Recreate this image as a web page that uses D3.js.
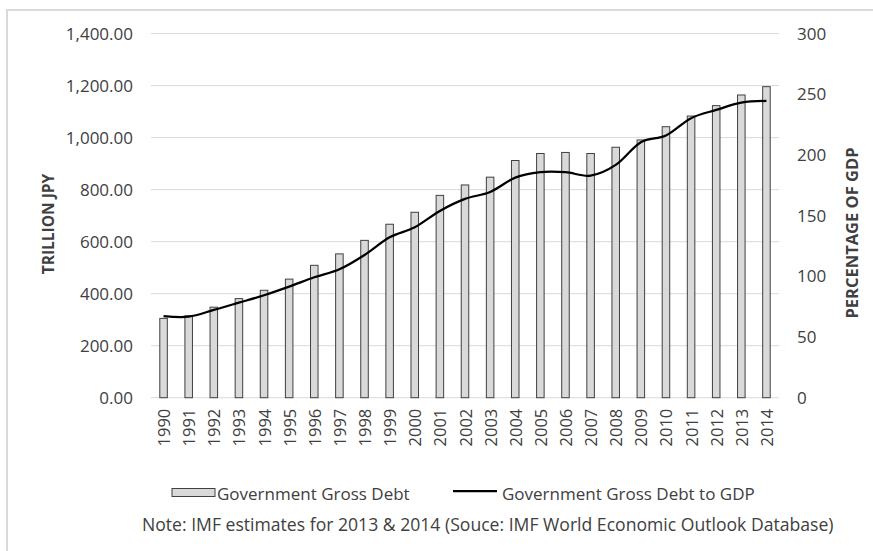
<!DOCTYPE html>
<html>
<head>
<meta charset="utf-8">
<script src="https://cdn.jsdelivr.net/npm/d3@7"></script>
<style>
  html, body { margin: 0; padding: 0; background: #fff; }
  svg text { font-family: "Open Sans", "Liberation Sans", sans-serif; fill: #404040; }
</style>
</head>
<body>
<svg id="chart" width="873" height="551"></svg>
<script>
// ---- data ----
const years = ["1990","1991","1992","1993","1994","1995","1996","1997","1998","1999",
               "2000","2001","2002","2003","2004","2005","2006","2007","2008","2009",
               "2010","2011","2012","2013","2014"];
const grossDebt = [305, 315, 348, 381, 413, 456, 509, 553, 605, 667,
                   713, 778, 818, 848, 912, 939, 943, 939, 963, 991,
                   1042, 1083, 1123, 1164, 1196];
const debtToGdp = [67.3, 66.8, 72.3, 78.3, 84.4, 91.5, 99.2, 105.8, 117.6, 132.2,
                   140.4, 153.9, 163.8, 169.5, 181.3, 185.8, 185.8, 183.0, 191.8, 210.5,
                   216.0, 230.3, 237.1, 243.1, 244.5];
const leftTicks = [0, 200, 400, 600, 800, 1000, 1200, 1400];
const rightTicks = [0, 50, 100, 150, 200, 250, 300];
const barLabel = "Government Gross Debt";
const lineLabel = "Government Gross Debt to GDP";
const leftTitle = "TRILLION JPY";
const rightTitle = "PERCENTAGE OF GDP";
const note = "Note: IMF estimates for 2013 & 2014 (Souce: IMF World Economic Outlook Database)";

// ---- layout ----
const svg = d3.select("#chart");
const plot = { left: 151, right: 779, top: 33.6, bottom: 397.7 };

// chart border (extends beyond the canvas on right and bottom)
svg.append("rect")
  .attr("x", 7).attr("y", 10).attr("width", 900).attr("height", 600)
  .attr("fill", "none").attr("stroke", "#d9d9d9").attr("stroke-width", 2);

const x = d3.scaleBand().domain(years).range([plot.left, plot.right])
  .paddingInner(0.7).paddingOuter(0.35);
const yL = d3.scaleLinear().domain([0, 1400]).range([plot.bottom, plot.top]);
const yR = d3.scaleLinear().domain([0, 300]).range([plot.bottom, plot.top]);

// gridlines
svg.append("g").selectAll("line").data(leftTicks).join("line")
  .attr("x1", plot.left).attr("x2", plot.right)
  .attr("y1", d => yL(d)).attr("y2", d => yL(d))
  .attr("stroke", "#d9d9d9").attr("stroke-width", 1);

// left axis
const fmt = d3.format(",.2f");
const leftAxis = d3.axisLeft(yL).tickValues(leftTicks).tickFormat(fmt).tickSize(0).tickPadding(0);
const gL = svg.append("g").attr("transform", `translate(133,0)`).call(leftAxis);
gL.select(".domain").remove();
gL.selectAll("text").attr("font-size", 17).attr("fill", "#404040")
  .attr("font-family", "'Open Sans', sans-serif").attr("x", 0);

// right axis
const rightAxis = d3.axisRight(yR).tickValues(rightTicks).tickSize(0).tickPadding(0);
const gR = svg.append("g").attr("transform", `translate(797,0)`).call(rightAxis);
gR.select(".domain").remove();
gR.selectAll("text").attr("font-size", 17).attr("fill", "#404040")
  .attr("font-family", "'Open Sans', sans-serif").attr("x", 0);

// bars
svg.append("g").selectAll("rect").data(years).join("rect")
  .attr("x", d => x(d)).attr("width", x.bandwidth())
  .attr("y", (d, i) => yL(grossDebt[i]))
  .attr("height", (d, i) => yL(0) - yL(grossDebt[i]))
  .attr("fill", "#d9d9d9").attr("stroke", "#404040").attr("stroke-width", 1);

// line
const line = d3.line()
  .x((d, i) => x(years[i]) + x.bandwidth() / 2)
  .y(d => yR(d))
  .curve(d3.curveCatmullRom.alpha(0));
svg.append("path").datum(debtToGdp)
  .attr("d", line).attr("fill", "none").attr("stroke", "#000")
  .attr("stroke-width", 2.25).attr("stroke-linejoin", "round");

// x axis labels
const xAxis = d3.axisBottom(x).tickSize(0).tickPadding(0);
const gX = svg.append("g").attr("transform", `translate(0,${plot.bottom})`).call(xAxis);
gX.select(".domain").remove();
gX.selectAll("text")
  .attr("font-size", 16.5).attr("fill", "#404040")
  .attr("font-family", "'Open Sans', sans-serif")
  .attr("text-anchor", "end").attr("dy", null).attr("y", 0)
  .attr("dominant-baseline", "central")
  .attr("transform", "translate(0,11) rotate(-90)");

// axis titles
svg.append("text")
  .attr("transform", "translate(48,224) rotate(-90)")
  .attr("text-anchor", "middle").attr("dominant-baseline", "central")
  .attr("font-size", 15.5).attr("font-weight", "bold").text(leftTitle);
svg.append("text")
  .attr("transform", "translate(851,233) rotate(-90)")
  .attr("text-anchor", "middle").attr("dominant-baseline", "central")
  .attr("font-size", 16.5).attr("font-weight", "bold").text(rightTitle);

// legend
const lg = svg.append("g");
lg.append("rect").attr("x", 172).attr("y", 488.5).attr("width", 43).attr("height", 8)
  .attr("fill", "#d9d9d9").attr("stroke", "#404040").attr("stroke-width", 1);
lg.append("text").attr("x", 217).attr("y", 500).attr("font-size", 17).text(barLabel);
lg.append("line").attr("x1", 453).attr("x2", 497).attr("y1", 491).attr("y2", 491)
  .attr("stroke", "#000").attr("stroke-width", 2.25);
lg.append("text").attr("x", 502).attr("y", 500).attr("font-size", 17).text(lineLabel);

// note
svg.append("text").attr("x", 142).attr("y", 531).attr("font-size", 17.6).text(note);
</script>
</body>
</html>
